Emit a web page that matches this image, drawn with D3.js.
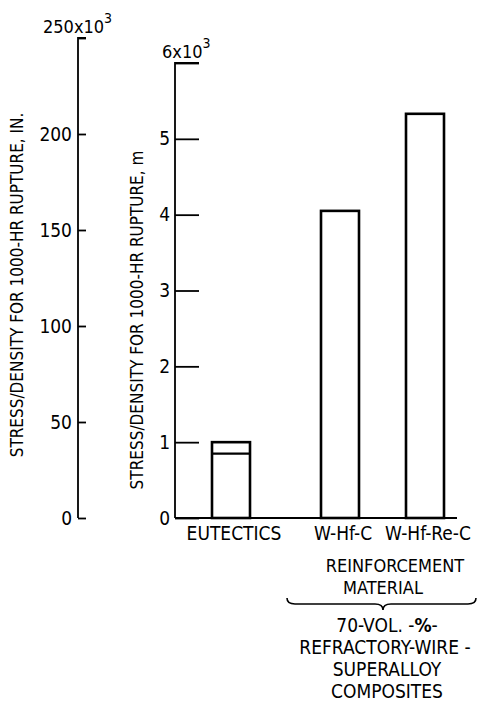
<!DOCTYPE html>
<html>
<head>
<meta charset="utf-8">
<script src="https://cdn.jsdelivr.net/npm/d3@7"></script>
<style>
  body { margin: 0; background: #fff; }
  svg text { font-family: "Liberation Sans Narrow", "DejaVu Sans Condensed", sans-serif; fill: #000; }
</style>
</head>
<body>
<svg id="chart" width="481" height="707"></svg>
<script>
// values (stress/density, units of 10^3 m)
var categories = ["EUTECTICS", "W-Hf-C", "W-Hf-Re-C"];
var barTop = [1.0, 4.05, 5.33];
var barInner = [0.85, null, null];  // second line inside the eutectics bar

var leftTicks = [0, 50, 100, 150, 200, 250];   // in., x10^3
var rightTicks = [0, 1, 2, 3, 4, 5, 6];        // m, x10^3

var groupLines = ["REINFORCEMENT", "MATERIAL"];
var noteLines = ["70-VOL. -%-", "REFRACTORY-WIRE -", "SUPERALLOY", "COMPOSITES"];

var fs = "19px";
var svg = d3.select("#chart");

var yIn = d3.scaleLinear().domain([0, 250]).range([518, 38]);
var yM = d3.scaleLinear().domain([0, 6]).range([518, 63]);

// uneven slots like the original layout
var x = d3.scaleOrdinal().domain(categories).range([231, 340, 425]);
var barW = 38;

// left axis (inches)
var axIn = svg.append("g")
    .attr("transform", "translate(78,0)")
    .call(d3.axisLeft(yIn).tickValues(leftTicks).tickSize(-8).tickPadding(6)
      .tickFormat(function(d) { return d == 250 ? "" : d; }));
axIn.selectAll("text").style("font-size", fs);
axIn.selectAll("line, path").attr("stroke", "#000").attr("stroke-width", 1.8);
axIn.select(".domain").attr("d", "M8," + yIn(250) + "H0V" + yIn(0));

var topIn = svg.append("text").attr("x", 43).attr("y", 33).style("font-size", "18px");
topIn.append("tspan").text("250x10");
topIn.append("tspan").attr("dy", -10).style("font-size", "14px").text("3");

// right axis (meters)
var axM = svg.append("g")
    .attr("transform", "translate(175,0)")
    .call(d3.axisLeft(yM).tickValues(rightTicks).tickSize(-24).tickPadding(5)
      .tickFormat(function(d) { return d == 6 ? "" : d; }));
axM.selectAll("text").style("font-size", fs);
axM.selectAll("line, path").attr("stroke", "#000").attr("stroke-width", 1.8);
axM.select(".domain").attr("d", "M24," + yM(6) + "H0V" + yM(0));

var topM = svg.append("text").attr("x", 162).attr("y", 58).style("font-size", "18px");
topM.append("tspan").text("6x10");
topM.append("tspan").attr("dy", -10).style("font-size", "14px").text("3");

// axis titles
svg.append("text")
    .attr("transform", "translate(23,285) rotate(-90)")
    .attr("text-anchor", "middle")
    .style("font-size", "17px")
    .text("STRESS/DENSITY FOR 1000-HR RUPTURE, IN.");

svg.append("text")
    .attr("transform", "translate(143,320) rotate(-90)")
    .attr("text-anchor", "middle")
    .style("font-size", "17px")
    .text("STRESS/DENSITY FOR 1000-HR RUPTURE, m");

// baseline
svg.append("line")
    .attr("x1", 175).attr("x2", 457)
    .attr("y1", yM(0)).attr("y2", yM(0))
    .attr("stroke", "#000").attr("stroke-width", 1.8);

// bars
svg.append("g").selectAll("rect")
  .data(categories)
  .enter()
  .append("rect")
    .attr("x", function(d) { return x(d) - barW / 2; })
    .attr("y", function(d, i) { return yM(barTop[i]); })
    .attr("width", barW)
    .attr("height", function(d, i) { return yM(0) - yM(barTop[i]); })
    .attr("fill", "#fff")
    .attr("stroke", "#000")
    .attr("stroke-width", 2.6);

svg.append("g").selectAll("line")
  .data(categories.filter(function(d, i) { return barInner[i] != null; }))
  .enter()
  .append("line")
    .attr("x1", function(d) { return x(d) - barW / 2; })
    .attr("x2", function(d) { return x(d) + barW / 2; })
    .attr("y1", function(d) { return yM(barInner[categories.indexOf(d)]); })
    .attr("y2", function(d) { return yM(barInner[categories.indexOf(d)]); })
    .attr("stroke", "#000").attr("stroke-width", 2.2);

// category labels
svg.append("g").selectAll("text")
  .data(categories)
  .enter()
  .append("text")
    .attr("x", function(d) { return x(d) + 3; })
    .attr("y", 540)
    .attr("text-anchor", "middle")
    .style("font-size", fs)
    .text(function(d) { return d; });

// group label, brace and note
svg.append("g").selectAll("text")
  .data(groupLines)
  .enter()
  .append("text")
    .attr("x", function(d, i) { return i == 0 ? 395 : 383; })
    .attr("y", function(d, i) { return 572 + i * 22; })
    .attr("text-anchor", "middle")
    .style("font-size", "18px")
    .text(function(d) { return d; });

var bx0 = 287, bx1 = 476, bm = 383, by = 598;
svg.append("path")
    .attr("d", "M" + bx0 + "," + by +
      " Q" + bx0 + "," + (by + 6) + " " + (bx0 + 8) + "," + (by + 6) +
      " L" + (bm - 8) + "," + (by + 6) +
      " Q" + bm + "," + (by + 6) + " " + bm + "," + (by + 12) +
      " Q" + bm + "," + (by + 6) + " " + (bm + 8) + "," + (by + 6) +
      " L" + (bx1 - 8) + "," + (by + 6) +
      " Q" + bx1 + "," + (by + 6) + " " + bx1 + "," + by)
    .attr("fill", "none").attr("stroke", "#000").attr("stroke-width", 1.6);

var note = svg.append("g").selectAll("text")
  .data(noteLines)
  .enter()
  .append("text")
    .attr("x", function(d, i) { return i == 1 ? 385 : 387; })
    .attr("y", function(d, i) { return 632 + i * 22; })
    .attr("text-anchor", "middle")
    .style("font-size", fs);

note.each(function(d) {
  var t = d3.select(this);
  if (d.indexOf("%") >= 0) {
    var parts = d.split("%");
    t.append("tspan").text(parts[0]);
    t.append("tspan").style("font-weight", "bold").text("%");
    t.append("tspan").text(parts[1]);
  } else {
    t.text(d);
  }
});
</script>
</body>
</html>
